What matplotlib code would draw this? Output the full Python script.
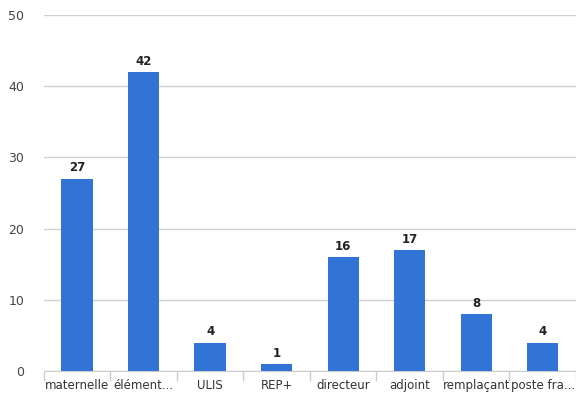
import matplotlib.pyplot as plt
import numpy as np

categories = ['maternelle', 'élément...', 'ULIS', 'REP+', 'directeur', 'adjoint', 'remplaçant', 'poste fra...']
values = [27, 42, 4, 1, 16, 17, 8, 4]
yticks = [0, 10, 20, 30, 40, 50]

fig = plt.figure(figsize=(5.76, 4.0), dpi=100)
ax = fig.add_axes([0.076, 0.0725, 0.924, 0.89])

x = np.arange(len(categories))
bars = ax.bar(x, values, width=0.47, color='#3274d6', zorder=3)
for xi, v in zip(x, values):
    ax.text(xi, v + 0.6, str(v), ha='center', va='bottom', fontsize=8.5,
            fontweight='bold', color='#222222')

ax.set_xlim(-0.5, len(categories) - 0.5)
ax.set_ylim(0, 50)
ax.set_yticks(yticks)
ax.set_yticklabels([str(t) for t in yticks], fontsize=9, color='#444444')
ax.yaxis.grid(True, color='#d0d0d0', linewidth=1, zorder=0)
ax.tick_params(axis='y', length=0, pad=14)

# category labels centred, separators between categories
ax.set_xticks(x)
ax.set_xticklabels(categories, fontsize=8.5, color='#333333')
ax.tick_params(axis='x', which='major', length=0, pad=6)
ax.set_xticks(np.arange(-0.5, len(categories)), minor=True)
ax.tick_params(axis='x', which='minor', length=7, color='#cccccc', width=1)

for s in ['top', 'right', 'left']:
    ax.spines[s].set_visible(False)
ax.spines['bottom'].set_color('#cccccc')

fig.savefig('out.png', dpi=100)
